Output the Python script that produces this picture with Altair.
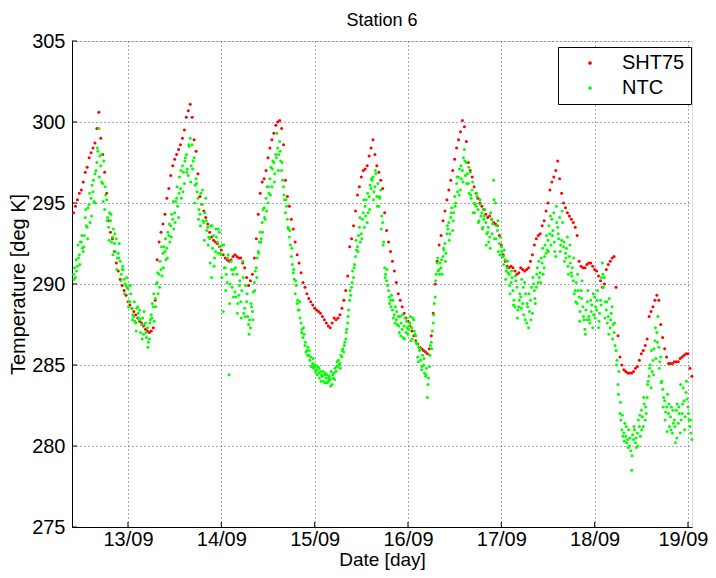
import altair as alt
import pandas as pd

start_hour = 10.0      # hours after 12/09 00:00
step_hour = 0.5

sht75 = [
    294.4, 294.8, 295.2, 295.6, 295.8, 296.3, 296.9, 297.2, 297.8, 298.1,
    298.4, 298.7, 299.6, 300.6, 299.0, 298.0, 296.9, 295.6, 293.9, 293.2,
    292.8, 292.0, 291.3, 290.8, 290.3, 289.9, 289.6, 289.3,
    288.9, 288.7, 288.5, 288.3, 288.1, 287.9, 287.7, 287.6, 287.4, 287.2,
    287.1, 287.0, 287.1, 287.3, 289.0, 291.5, 292.6, 293.2, 293.7, 294.3,
    295.3, 295.9, 296.7, 297.3, 297.7, 298.0, 298.3, 298.6, 299.0, 299.5,
    300.3, 300.7, 301.1, 300.3, 298.9, 298.2, 296.8, 295.4, 294.9, 294.5,
    294.1, 293.7, 293.2, 292.9, 292.7, 292.6, 292.5, 292.3,
    292.1, 291.8, 291.6, 291.5, 291.4, 291.5, 291.7, 291.8, 291.7, 291.6,
    291.6, 291.3, 291.0, 290.4, 289.9, 290.2, 290.6, 291.6, 292.8, 294.3,
    295.6, 296.3, 296.5, 297.0, 297.8, 298.4, 298.9, 299.3, 299.8, 300.0,
    300.1, 299.6, 298.6, 296.4, 295.4, 294.8, 294.0, 293.4, 292.6, 291.8,
    291.3, 290.7, 290.1, 289.8, 289.4, 289.1, 288.9, 288.7,
    288.5, 288.4, 288.3, 288.2, 288.0, 287.8, 287.6, 287.4, 287.3, 287.6,
    287.9, 287.8, 287.9, 288.1, 288.5, 289.0, 289.6, 290.5, 292.3, 292.8,
    293.6, 294.5, 295.5, 296.0, 296.6, 297.0, 297.1, 297.3, 297.9, 298.4,
    298.9, 298.0, 297.3, 296.9, 296.4, 295.9, 294.4, 293.3, 292.6, 292.0,
    291.4, 290.8, 290.1, 289.4, 289.0, 288.6, 288.2, 287.9,
    287.7, 287.4, 287.1, 286.8, 286.5, 286.3, 286.1, 286.0, 285.9, 285.8,
    285.7, 286.0, 286.8, 288.2, 290.0, 291.4, 292.4, 293.0, 293.9, 294.5,
    295.2, 295.8, 296.4, 297.0, 297.7, 298.4, 298.9, 299.4, 300.1, 299.7,
    298.8, 297.5, 297.0, 296.6, 296.0, 295.6, 295.3, 295.0, 294.8, 294.6,
    294.3, 294.1, 294.2, 294.0, 293.8, 293.7, 293.6, 293.0,
    292.4, 291.8, 291.4, 291.1, 291.0, 291.1, 291.0, 290.8, 290.6, 290.7,
    291.0, 290.9, 290.8, 290.9, 291.0, 291.4, 291.8, 292.4, 292.8, 293.0,
    293.1, 293.6, 293.9, 294.5, 295.0, 295.8, 296.3, 296.6, 297.0, 297.6,
    296.5, 295.6, 295.0, 294.7, 294.4, 294.2, 294.0, 293.8, 293.5, 293.0,
    291.4, 291.1, 291.0, 291.0, 291.2, 291.3, 291.3, 291.1,
    290.9, 290.8, 290.5, 290.2, 289.8, 290.0, 290.9, 291.2, 291.4, 291.6,
    291.7, 289.8, 286.8, 285.5, 285.0, 284.7, 284.6, 284.5, 284.5, 284.5,
    284.6, 284.8, 284.9, 285.3, 285.7, 285.9, 286.2, 286.6, 288.0, 288.3,
    288.6, 289.0, 289.3, 289.0, 287.5, 286.7, 286.0, 285.5, 285.1, 285.1,
    285.1, 285.2, 285.2, 285.2, 285.4, 285.5, 285.6, 285.7, 285.7, 284.8,
    284.3,
]

# NTC readings at the same half-hour times
ntc_a = [
    290.6, 290.4, 291.1, 291.8, 292.6, 292.0, 294.1, 293.5, 294.9, 295.3,
    295.7, 296.8, 297.5, 299.6, 297.3, 296.2, 294.6, 295.2, 293.5, 293.9,
    292.9, 292.5, 292.8, 291.9, 291.4, 290.9, 290.3, 289.9,
    289.7, 288.9, 288.5, 288.0, 287.6, 288.6, 288.4, 287.5, 286.9, 287.6,
    287.3, 286.6, 288.1, 288.6, 289.1, 290.1, 290.6, 290.9, 291.9, 292.0,
    292.2, 293.0, 293.6, 294.0, 294.4, 295.3, 294.1, 295.9, 297.3, 296.2,
    298.0, 296.7, 299.0, 298.6, 297.8, 296.5, 295.3, 294.3, 294.9, 293.8,
    295.3, 293.5, 292.8, 290.4, 293.0, 292.0, 292.6, 293.2,
    291.8, 288.3, 291.0, 290.1, 284.4, 291.4, 290.6, 289.5, 290.6, 289.3,
    288.9, 291.4, 288.5, 288.9, 287.5, 287.3, 288.3, 290.1, 291.0, 292.0,
    293.2, 293.8, 294.7, 295.3, 295.0, 296.5, 296.0, 297.5, 298.0, 298.4,
    298.8, 297.0, 296.0, 294.4, 294.0, 292.9, 291.7, 290.7, 289.4, 288.8,
    288.4, 287.6, 286.7, 286.2, 285.9, 285.6, 285.5, 285.1,
    284.9, 284.7, 284.5, 284.6, 284.3, 284.4, 284.2, 284.0, 284.1, 283.8,
    284.5, 284.6, 284.9, 285.1, 285.5, 285.8, 286.6, 287.6, 289.0, 289.8,
    290.4, 291.7, 292.3, 293.5, 293.1, 294.4, 294.8, 293.8, 295.4, 295.9,
    296.6, 296.0, 295.4, 294.8, 295.8, 293.8, 291.0, 290.2, 289.6, 289.0,
    288.4, 288.1, 287.8, 288.0, 288.0, 287.2, 287.4, 287.0,
    286.9, 287.6, 287.3, 287.8, 286.8, 285.5, 285.9, 284.7, 285.0, 284.3,
    283.0, 284.9, 286.4, 287.6, 289.2, 291.3, 290.9, 291.0, 291.7, 292.5,
    293.1, 293.8, 294.1, 293.3, 295.4, 296.2, 296.6, 295.8, 297.0, 298.3,
    297.5, 296.2, 296.9, 295.8, 295.0, 294.8, 294.6, 295.2, 294.4, 294.0,
    293.8, 293.2, 292.9, 294.0, 296.4, 295.0, 293.3, 292.5,
    292.3, 291.7, 291.5, 291.0, 290.6, 290.1, 289.6, 288.6, 289.8, 288.6,
    289.2, 288.8, 290.1, 287.6, 287.3, 289.0, 288.2, 289.6, 289.8, 290.1,
    290.7, 291.3, 291.0, 291.9, 292.7, 293.1, 294.0, 294.4, 291.7, 293.5,
    294.1, 292.7, 292.3, 291.9, 292.9, 291.7, 290.7, 290.2, 289.6, 288.8,
    289.2, 289.6, 288.6, 287.2, 287.8, 288.0, 289.0, 287.3,
    289.2, 288.4, 287.3, 289.0, 291.3, 290.4, 288.4, 288.0, 287.3, 288.6,
    287.0, 285.9, 283.8, 282.0, 281.0, 280.8, 280.6, 280.4, 280.0, 278.5,
    280.4, 280.2, 280.8, 281.2, 282.2, 281.2, 281.6, 283.0, 284.3, 283.6,
    285.3, 286.5, 287.0, 286.1, 285.5, 283.5, 282.8, 282.4, 282.0, 281.8,
    280.8, 281.6, 282.2, 281.4, 280.8, 282.0, 282.8, 283.3, 282.4, 281.2,
    280.4,
]

# NTC readings from 12/09 10:15, every 30 min
ntc_b_start_hour = 10.25
ntc_b = [
    291.0, 290.8, 291.6, 292.6, 292.2, 293.0, 293.6, 294.7, 293.8, 296.1,
    295.1, 297.0, 298.2, 297.9, 296.3, 297.6, 295.5, 294.1, 294.4, 292.6,
    293.4, 292.0, 291.6, 292.5, 290.6, 290.9, 290.0, 289.8,
    288.9, 289.4, 288.1, 287.7, 288.5, 287.9, 287.0, 287.9, 287.5, 286.7,
    286.4, 287.8, 288.8, 287.7, 290.0, 289.4, 291.4, 290.5, 292.3, 291.5,
    293.2, 292.6, 294.3, 293.4, 295.1, 294.8, 296.6, 295.3, 296.9, 297.8,
    297.1, 298.5, 297.3, 297.6, 296.1, 295.7, 294.6, 295.6, 293.9, 294.4,
    293.3, 292.9, 293.6, 292.2, 291.6, 292.9, 293.4, 291.9,
    292.4, 291.0, 290.6, 291.8, 290.0, 289.8, 290.9, 289.2, 288.8, 290.2,
    289.6, 288.2, 289.9, 288.0, 287.8, 288.6, 289.5, 290.8, 291.6, 292.6,
    292.8, 294.6, 294.0, 296.0, 295.6, 297.2, 297.6, 296.8, 299.3, 298.0,
    297.6, 296.4, 295.2, 294.8, 293.4, 292.4, 291.2, 290.3, 289.9, 288.4,
    287.9, 287.2, 286.9, 285.8, 286.1, 285.3, 284.9, 284.8,
    284.6, 284.9, 284.2, 284.4, 284.0, 284.5, 283.9, 284.3, 284.6, 284.2,
    284.8, 285.2, 285.0, 285.6, 286.0, 286.4, 287.2, 288.4, 289.3, 290.8,
    291.2, 292.1, 293.0, 292.6, 294.0, 293.5, 295.2, 294.4, 296.1, 296.4,
    295.7, 296.8, 296.2, 295.3, 294.2, 292.6, 290.6, 289.9, 288.8, 289.3,
    287.9, 288.6, 287.5, 287.0, 287.6, 286.7, 287.9, 287.3,
    287.4, 286.5, 287.9, 286.9, 286.3, 286.1, 285.3, 285.6, 284.5, 284.8,
    284.2, 286.2, 287.1, 288.8, 290.6, 290.8, 291.3, 290.6, 292.1, 291.9,
    293.4, 293.1, 294.7, 294.4, 295.0, 295.7, 297.1, 296.5, 297.8, 296.7,
    296.8, 295.6, 295.3, 294.4, 294.9, 295.4, 293.9, 294.2, 293.5, 294.6,
    293.1, 292.6, 294.4, 293.7, 292.8, 293.6, 292.0, 292.9,
    291.7, 292.1, 290.8, 290.7, 289.4, 290.4, 289.0, 290.2, 288.4, 289.4,
    290.3, 288.1, 289.4, 288.6, 288.3, 289.8, 290.0, 288.8, 291.0, 290.4,
    291.6, 290.6, 292.4, 292.1, 293.6, 292.4, 293.3, 292.0, 293.8, 292.8,
    292.4, 293.8, 291.4, 292.2, 290.6, 291.3, 291.0, 289.4, 290.1, 289.6,
    288.3, 290.2, 287.8, 288.4, 289.6, 287.6, 288.7, 288.1,
    288.6, 289.6, 288.2, 290.4, 289.8, 288.9, 287.6, 289.1, 288.2, 287.5,
    286.2, 285.3, 284.6, 281.6, 280.6, 281.4, 280.2, 281.0, 279.7, 280.7,
    281.0, 279.9, 281.6, 280.6, 281.8, 282.6, 282.0, 284.0, 285.0, 284.6,
    286.0, 285.4, 288.0, 285.2, 284.0, 283.0, 282.1, 283.2, 281.2, 282.4,
    281.4, 280.2, 282.6, 282.0, 281.6, 283.6, 281.8, 282.9, 281.6, 280.8,
]

# NTC readings from 12/09 10:07, every 30 min
ntc_c_start_hour = 10.125
ntc_c = [
    290.3, 291.5, 292.4, 291.2, 293.0, 292.3, 294.6, 292.8, 295.6, 294.2,
    296.4, 295.0, 298.4, 296.6, 298.0, 295.1, 296.0, 293.9, 292.7, 294.3,
    291.8, 293.1, 290.9, 291.6, 290.2, 291.1, 289.4, 290.4,
    288.6, 289.9, 287.8, 288.9, 287.1, 288.2, 287.8, 286.6, 288.3, 287.0,
    286.1, 287.6, 287.9, 289.4, 288.6, 290.7, 289.8, 292.3, 291.0, 292.8,
    291.6, 293.7, 292.9, 295.1, 293.8, 296.0, 295.6, 297.0, 295.7, 297.6,
    296.9, 298.6, 296.3, 297.1, 295.0, 296.2, 294.0, 293.6, 295.8, 292.7,
    293.9, 292.4, 291.3, 293.6, 291.1, 293.4, 291.9, 292.3,
    290.4, 292.4, 289.6, 291.6, 288.8, 290.9, 289.2, 291.0, 288.2, 289.9,
    287.9, 290.4, 288.0, 289.4, 286.9, 288.8, 287.8, 289.6, 290.4, 291.9,
    292.6, 293.2, 294.1, 294.5, 296.0, 295.5, 297.1, 296.3, 297.8, 297.0,
    298.2, 297.5, 295.5, 295.2, 293.5, 293.3, 292.2, 290.9, 290.2, 289.0,
    288.9, 287.0, 287.3, 286.4, 285.6, 285.9, 284.9, 285.4,
    285.0, 284.4, 284.8, 284.0, 284.6, 283.9, 284.4, 284.2, 283.7, 284.4,
    284.1, 284.9, 285.3, 284.8, 285.9, 286.2, 287.0, 288.0, 289.6, 290.1,
    291.0, 292.7, 292.0, 294.1, 292.8, 295.2, 294.2, 295.6, 294.6, 296.5,
    295.2, 297.0, 294.8, 295.4, 293.4, 292.4, 290.4, 290.9, 289.2, 288.6,
    289.0, 287.6, 288.3, 287.4, 286.8, 288.1, 286.6, 287.7,
    287.2, 288.0, 286.6, 287.1, 286.4, 285.2, 286.0, 284.9, 285.4, 284.4,
    283.8, 285.6, 286.0, 288.1, 290.2, 291.6, 290.6, 291.5, 292.2, 291.4,
    293.6, 292.7, 294.4, 293.9, 294.8, 296.6, 295.5, 297.3, 296.3, 297.6,
    296.2, 297.2, 295.5, 296.3, 294.4, 295.6, 293.8, 294.9, 293.4, 294.2,
    292.4, 293.5, 292.2, 293.1, 295.2, 292.8, 293.9, 291.8,
    292.0, 291.2, 290.3, 291.4, 289.9, 290.8, 288.7, 290.5, 287.9, 289.0,
    288.5, 289.8, 287.8, 288.8, 289.4, 287.8, 290.4, 289.1, 290.6, 291.4,
    290.1, 292.2, 291.7, 293.0, 292.0, 294.2, 293.0, 292.6, 294.8, 293.1,
    292.0, 294.5, 292.6, 291.6, 291.1, 292.4, 290.5, 291.6, 288.9, 290.6,
    287.7, 289.1, 288.0, 286.9, 288.9, 287.8, 288.3, 289.4,
    287.9, 289.0, 287.7, 288.7, 290.6, 287.9, 288.9, 286.9, 287.8, 286.6,
    287.6, 285.0, 283.2, 282.7, 281.9, 280.3, 281.2, 279.9, 280.5, 279.4,
    281.2, 280.5, 280.0, 281.9, 281.0, 283.0, 282.4, 283.8, 284.8, 285.9,
    284.4, 287.3, 286.4, 284.8, 283.9, 282.4, 281.6, 280.9, 282.6, 281.0,
    282.2, 281.2, 280.5, 282.4, 283.8, 282.6, 281.0, 284.0, 282.0, 281.6,
]

series_names = ["SHT75", "NTC"]
series_colors = ["#ff0000", "#00ff00"]
x_tick_days = [13, 14, 15, 16, 17, 18, 19]
y_ticks = [275, 280, 285, 290, 295, 300, 305]
x_domain = [12.4, 19.043]
y_domain = [275, 305]

# ---- build table ----
rows = []
for i, v in enumerate(sht75):
    rows.append({"day": 12 + (start_hour + step_hour * i) / 24, "temp": v,
                 "sensor": "SHT75", "k": 0})
for start, values in ((start_hour, ntc_a), (ntc_b_start_hour, ntc_b),
                      (ntc_c_start_hour, ntc_c)):
    for i, v in enumerate(values):
        rows.append({"day": 12 + (start + step_hour * i) / 24, "temp": v,
                     "sensor": "NTC", "k": 1})
df = pd.DataFrame(rows)

FONT = "Liberation Sans"
W, H = 620, 486

xscale = alt.Scale(domain=x_domain, nice=False, zero=False)
yscale = alt.Scale(domain=y_domain, nice=False, zero=False)

points = alt.Chart(df).mark_circle(size=9, opacity=1).encode(
    x=alt.X("day:Q", scale=xscale,
            axis=alt.Axis(values=x_tick_days, labelExpr="datum.value + '/09'",
                          title="Date [day]", grid=True, gridDash=[1, 3],
                          gridColor="#555", gridWidth=1, ticks=False,
                          domainColor="black", labelFontSize=20, titleFontSize=19,
                          labelColor="black", titleColor="black", labelPadding=2,
                          labelFlush=10, labelFlushOffset=20,
                          titleY=42, titleBaseline="bottom", titleFontWeight="normal",
                          labelFont=FONT, titleFont=FONT)),
    y=alt.Y("temp:Q", scale=yscale,
            axis=alt.Axis(values=y_ticks, title="Temperature [deg K]", grid=True,
                          gridDash=[1, 3], gridColor="#555", gridWidth=1, ticks=False,
                          domainColor="black", labelFontSize=20, titleFontSize=20,
                          labelColor="black", titleColor="black", labelPadding=7,
                          titlePadding=3, titleFontWeight="normal",
                          labelFont=FONT, titleFont=FONT)),
    color=alt.Color("sensor:N",
                    scale=alt.Scale(domain=series_names, range=series_colors),
                    legend=alt.Legend(title=None, orient="none", legendX=486, legendY=6,
                                      strokeColor="black", fillColor="white", padding=6,
                                      symbolType="circle", symbolSize=14,
                                      symbolOffset=16, labelOffset=22, labelFontSize=20,
                                      labelFont=FONT, labelColor="black", rowPadding=5,
                                      cornerRadius=0, symbolStrokeWidth=0)),
    order=alt.Order("k:Q"),
)

xt = pd.DataFrame({"day": x_tick_days})
yt = pd.DataFrame({"temp": y_ticks})
xticks = alt.Chart(xt).mark_rule(color="black", strokeWidth=1).encode(
    x=alt.X("day:Q", scale=xscale), y=alt.value(H - 5), y2=alt.value(H))
yticks = alt.Chart(yt).mark_rule(color="black", strokeWidth=1).encode(
    y=alt.Y("temp:Q", scale=yscale), x=alt.value(0), x2=alt.value(5))

chart = alt.layer(points, xticks, yticks).properties(
    width=W, height=H,
    title=alt.TitleParams("Station 6", fontSize=18, fontWeight="normal", font=FONT,
                          color="black", offset=1),
    autosize=alt.AutoSizeParams(type="none"),
    padding={"left": 64, "top": 33, "right": 16, "bottom": 43},
).configure_view(stroke=None).configure(background="white")

chart.save("out.html", embed_options={"renderer": "svg", "actions": False})
